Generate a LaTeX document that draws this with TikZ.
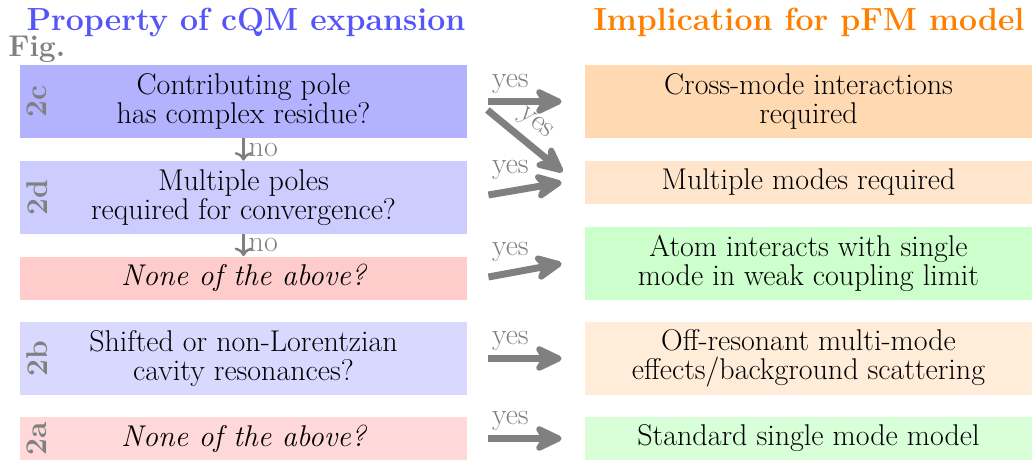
\documentclass[tikz,border=0pt]{standalone}
\usetikzlibrary{arrows.meta}
\definecolor{headblue}{RGB}{85,85,250}
\definecolor{headorange}{RGB}{255,128,0}
\begin{document}
\begin{tikzpicture}[x=0.5pt,y=-0.5pt,
  every node/.style={font=\fontsize{15}{14.5}\selectfont},
  boxL/.style={rectangle,inner sep=0pt,minimum width=223.5pt,align=center},
  tall/.style={minimum height=36.5pt},
  short/.style={minimum height=21.5pt},
  vlab/.style={rotate=90,text=gray,font=\fontsize{15}{14.5}\selectfont\bfseries},
  bigarrow/.style={draw=gray,line width=3.5pt,-{Stealth[length=17pt,width=16pt,inset=5pt,round]}},
  smallarrow/.style={draw=gray,line width=1.2pt,-{To}},
  yeslab/.style={text=gray,inner sep=2pt},
  head/.style={font=\fontsize{16}{16}\selectfont\bfseries,anchor=base,inner sep=0pt}
]
\useasboundingbox (0,0) rectangle (1032,460);
% headings
\node[head,text=headblue] (hl) at (246,31) {Property of cQM expansion};
\node[head,text=headorange] (hr) at (809,31) {Implication for pFM model};
\node[anchor=base west,inner sep=0pt,text=gray,font=\fontsize{15}{14.5}\selectfont\bfseries] (fig) at (8,57) {Fig.};
% left boxes
\node[boxL,tall,fill=blue!30] (c2) at (243.5,101.5) {Contributing pole\\has complex residue?};
\node[boxL,tall,fill=blue!20] (d2) at (243.5,197.5) {Multiple poles\\required for convergence?};
\node[boxL,short,fill=red!20] (n1) at (243.5,278) {\itshape None of the above?};
\node[boxL,tall,fill=blue!15] (b2) at (243.5,358.5) {Shifted or non-Lorentzian\\cavity resonances?};
\node[boxL,short,fill=red!15] (a2) at (243.5,438.5) {\itshape None of the above?};
% vertical labels
\node[vlab] (lc) at (37,101.5) {2c};
\node[vlab] (ld) at (37,197.5) {2d};
\node[vlab] (lb) at (37,358.5) {2b};
\node[vlab] (la) at (37,438.5) {2a};
% right boxes
\node[boxL,tall,fill=orange!30] (r1) at (808.5,101.5) {Cross-mode interactions\\required};
\node[boxL,short,fill=orange!20] (r2) at (808.5,182.5) {Multiple modes required};
\node[boxL,tall,fill=green!20] (r3) at (808.5,263.5) {Atom interacts with single\\mode in weak coupling limit};
\node[boxL,tall,fill=orange!15] (r4) at (808.5,358.5) {Off-resonant multi-mode\\effects/background scattering};
\node[boxL,short,fill=green!15] (r5) at (808.5,438.5) {Standard single mode model};
% no arrows
\draw[smallarrow] (c2.south) -- node[right,text=gray,inner sep=2pt] {no} (d2.north);
\draw[smallarrow] (d2.south) -- node[right,text=gray,inner sep=2pt] {no} (n1.north);
% yes arrows
\draw[bigarrow] ([xshift=10.5pt]c2.east) -- node[pos=0.3,above,yeslab] {yes} ([xshift=-11.5pt]r1.west);
\draw[bigarrow] ([xshift=10pt,yshift=-4.25pt]c2.east) -- node[pos=0.47,above,sloped,yeslab,inner sep=3pt] {yes} ([xshift=-11pt,yshift=5.25pt]r2.west);
\draw[bigarrow] ([xshift=10.5pt,yshift=1.25pt]d2.east) -- node[pos=0.3,above,yeslab,yshift=2pt] {yes} ([xshift=-11.5pt]r2.west);
\draw[bigarrow] ([xshift=10.5pt,yshift=0.5pt]n1.east) -- node[pos=0.3,above,yeslab,yshift=2pt] {yes} ([xshift=-11.5pt]r3.west);
\draw[bigarrow] ([xshift=10.5pt]b2.east) -- node[pos=0.3,above,yeslab] {yes} ([xshift=-11.5pt]r4.west);
\draw[bigarrow] ([xshift=10.5pt]a2.east) -- node[pos=0.3,above,yeslab] {yes} ([xshift=-11.5pt]r5.west);
\end{tikzpicture}
\end{document}
